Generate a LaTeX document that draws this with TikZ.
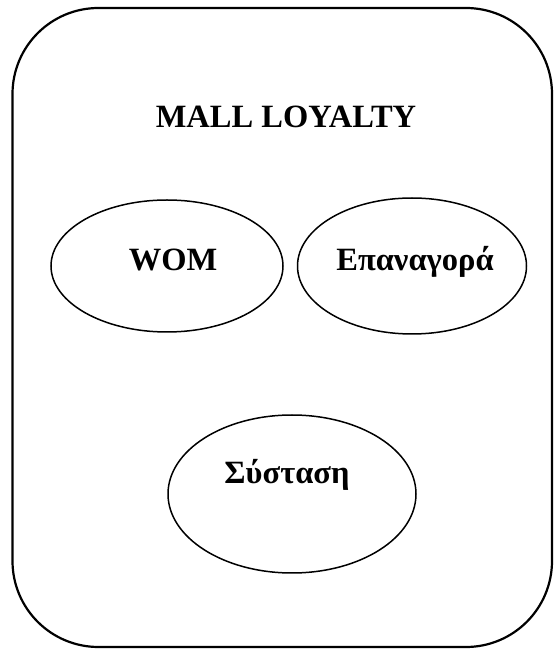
\documentclass[tikz,border=0pt]{standalone}
\usepackage{fontspec}
\setmainfont{Liberation Serif}
\usetikzlibrary{shapes.geometric}
\begin{document}
\begin{tikzpicture}[x=1pt,y=1pt,
  oval/.style={draw,ellipse,line width=1.5pt,inner sep=0pt},
  lbl/.style={font=\fontsize{32.5}{38}\selectfont\bfseries}]
\useasboundingbox (0,0) rectangle (554,649);
\draw[line width=2.2pt,rounded corners=86pt] (12.5,2) rectangle (552,641);
\node[lbl] (title) at (286,532) {MALL LOYALTY};
\node[oval,minimum width=232pt,minimum height=132pt] (wom) at (167,383) {};
\node[lbl] (womt) at (173,389) {WOM};
\node[oval,minimum width=229pt,minimum height=136pt] (rep) at (412,383) {};
\node[lbl] (rept) at (415,387) {Επαναγορά};
\node[oval,minimum width=248pt,minimum height=158pt] (rec) at (292,155) {};
\node[lbl] (rect) at (287,174) {Σύσταση};
\end{tikzpicture}
\end{document}
